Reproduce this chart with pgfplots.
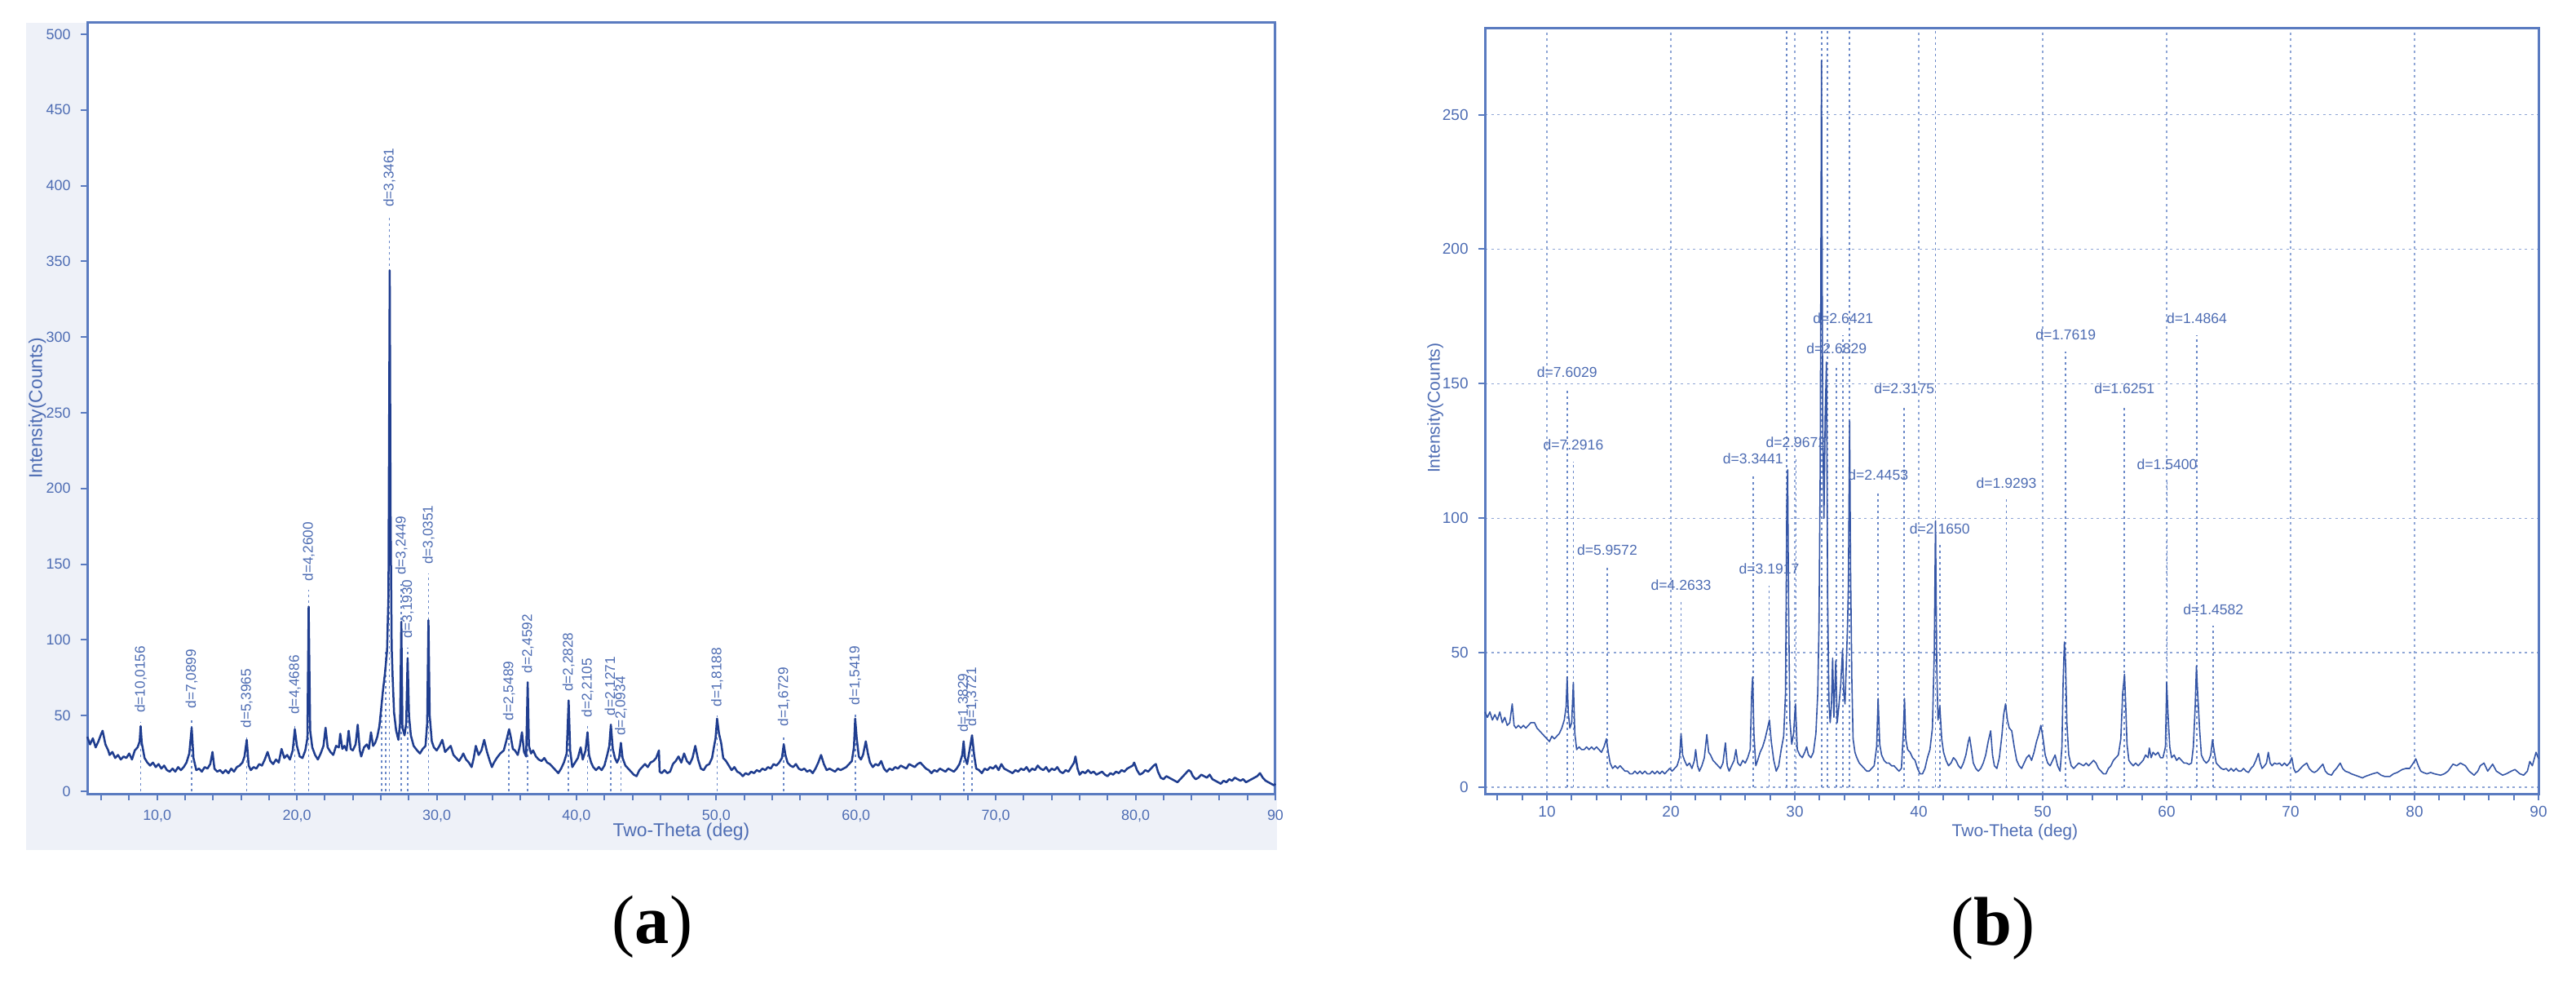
\documentclass[border=0pt]{standalone}
\usepackage{pgfplots}
\pgfplotsset{compat=1.18}
\usepackage{pgfplotstable}
\usepackage{fontspec}
\setmainfont{Liberation Sans}
\newfontfamily\capfont{Liberation Serif}
\newcommand\fs[1]{\fontsize{#1}{#1}\selectfont}
\definecolor{frameblue}{HTML}{5A7BC0}
\definecolor{curveA}{HTML}{1F3D8F}
\definecolor{curveB}{HTML}{3556A6}
\definecolor{dotblue}{HTML}{6A88C8}
\definecolor{gridblue}{HTML}{8FA6D6}
\definecolor{textblue}{HTML}{4D6CB3}
\definecolor{bggray}{HTML}{EEF1F8}

\pgfplotstableread{
x y
5.0 36
5.2 31
5.4 35
5.6 29
5.8 33
6.0 38
6.1 40
6.3 31
6.5 27
6.6 24
6.8 26
7.0 22
7.2 24
7.4 21
7.6 23
7.8 22
8.0 25
8.2 21
8.4 27
8.6 29
8.75 33
8.82 43
8.9 32
9.1 22
9.3 19
9.5 17
9.7 19
9.9 16
10.1 18
10.3 15
10.5 17
10.7 14
10.9 13
11.1 15
11.3 13
11.5 16
11.7 14
11.9 16
12.1 19
12.3 25
12.47 42
12.6 22
12.8 14
13.0 15
13.2 13
13.4 16
13.6 15
13.8 18
13.96 26
14.1 15
14.3 13
14.5 14
14.7 12
14.9 14
15.1 12
15.3 15
15.5 13
15.7 16
15.9 17
16.1 19
16.25 23
16.41 34
16.55 17
16.7 14
16.9 16
17.1 15
17.3 18
17.5 17
17.7 21
17.9 26
18.1 20
18.3 18
18.5 21
18.7 19
18.9 28
19.1 22
19.3 24
19.5 21
19.7 27
19.85 41
20.0 30
20.2 23
20.4 22
20.6 27
20.75 35
20.84 122
20.95 40
21.1 29
21.3 24
21.5 21
21.7 25
21.9 30
22.05 42
22.2 29
22.4 26
22.6 24
22.8 30
23.0 29
23.1 38
23.25 28
23.4 30
23.55 27
23.7 40
23.85 28
24.0 27
24.2 31
24.35 44
24.5 27
24.6 23
24.8 29
25.0 31
25.15 28
25.3 39
25.45 30
25.6 32
25.75 36
25.9 43
26.0 52
26.15 66
26.3 78
26.45 93
26.55 130
26.64 344
26.7 184
26.78 95
26.85 75
26.95 52
27.1 40
27.26 34
27.38 45
27.47 112
27.55 42
27.7 37
27.82 45
27.92 88
28.02 50
28.15 37
28.35 30
28.6 27
28.8 25
29.0 28
29.2 30
29.32 45
29.41 113
29.5 50
29.65 33
29.8 29
30.0 27
30.2 30
30.4 34
30.6 26
30.8 28
31.0 30
31.2 24
31.4 22
31.6 20
31.8 23
31.9 25
32.1 21
32.3 19
32.5 16
32.65 22
32.8 30
33.0 24
33.2 27
33.4 34
33.6 26
33.8 20
33.95 16
34.1 19
34.3 22
34.55 25
34.8 27
35.0 34
35.18 41
35.3 36
35.45 28
35.6 27
35.8 24
35.95 30
36.1 39
36.25 26
36.4 23
36.51 72
36.6 30
36.75 25
36.9 27
37.1 23
37.3 21
37.5 20
37.7 22
37.9 19
38.1 18
38.3 16
38.5 14
38.7 12
38.9 15
39.1 19
39.3 25
39.44 60
39.55 27
39.7 16
39.9 19
40.1 22
40.3 29
40.45 21
40.65 27
40.79 39
40.9 24
41.05 19
41.2 16
41.4 14
41.6 16
41.8 14
42.0 17
42.2 24
42.35 30
42.46 44
42.6 28
42.75 22
42.9 19
43.05 22
43.18 32
43.3 22
43.5 17
43.7 15
43.9 13
44.1 11
44.3 10
44.5 14
44.7 16
44.9 18
45.1 16
45.3 19
45.5 20
45.7 22
45.9 27
45.95 13
46.1 12
46.3 14
46.5 12
46.7 13
46.9 18
47.1 20
47.3 23
47.5 19
47.7 25
47.9 20
48.1 18
48.3 22
48.5 30
48.7 21
48.9 15
49.1 14
49.3 17
49.5 18
49.7 22
49.85 30
49.95 35
50.06 48
50.2 38
50.35 32
50.5 22
50.7 20
50.9 17
51.1 14
51.3 16
51.5 13
51.7 12
51.9 10
52.1 12
52.3 11
52.5 13
52.7 12
52.9 14
53.1 13
53.3 15
53.5 14
53.7 16
53.9 15
54.1 18
54.3 17
54.5 19
54.7 22
54.83 31
54.95 24
55.1 19
55.3 17
55.5 16
55.7 18
55.9 15
56.1 14
56.3 15
56.5 13
56.7 14
56.9 12
57.1 15
57.3 19
57.5 24
57.7 18
57.9 14
58.1 15
58.3 14
58.5 13
58.7 15
58.9 14
59.1 15
59.3 16
59.5 18
59.7 20
59.85 29
59.94 48
60.05 35
60.2 23
60.35 21
60.5 24
60.7 33
60.85 25
61.0 19
61.2 16
61.4 18
61.6 17
61.8 20
62.0 15
62.2 13
62.4 15
62.6 14
62.8 16
63.0 15
63.2 17
63.4 16
63.6 15
63.8 18
64.0 17
64.2 16
64.4 18
64.6 19
64.8 17
65.0 15
65.2 14
65.4 12
65.6 14
65.8 13
66.0 15
66.2 14
66.4 13
66.6 15
66.8 14
67.0 13
67.2 15
67.4 18
67.6 24
67.7 33
67.8 22
67.95 18
68.1 26
68.3 37
68.45 24
68.6 15
68.8 14
69.0 12
69.2 15
69.4 14
69.6 16
69.8 15
70.0 17
70.2 14
70.4 18
70.6 15
70.8 14
71.0 13
71.2 12
71.4 14
71.6 13
71.8 15
72.0 14
72.2 16
72.4 13
72.6 15
72.8 14
73.0 17
73.2 15
73.4 14
73.6 16
73.8 13
74.0 15
74.2 14
74.4 16
74.6 13
74.8 12
75.0 14
75.2 13
75.4 16
75.6 19
75.7 23
75.85 15
76.0 11
76.2 13
76.4 12
76.6 14
76.8 12
77.0 13
77.2 11
77.4 12
77.6 13
77.8 11
78.0 10
78.2 12
78.4 11
78.6 13
78.8 12
79.0 14
79.2 13
79.4 15
79.6 16
79.8 17
79.9 19
80.1 14
80.3 11
80.5 12
80.7 14
80.9 13
81.1 15
81.3 17
81.45 18
81.6 13
81.8 9
82.0 8
82.2 10
82.4 9
82.6 8
82.8 7
83.0 6
83.2 8
83.4 10
83.6 12
83.8 14
83.95 13
84.1 10
84.3 8
84.5 9
84.7 11
84.9 10
85.1 9
85.3 11
85.5 8
85.7 7
85.9 6
86.1 5
86.3 7
86.5 6
86.7 8
86.9 7
87.1 9
87.3 8
87.5 7
87.7 8
87.9 6
88.1 7
88.3 8
88.5 9
88.7 10
88.9 12
89.1 9
89.3 7
89.5 6
89.7 5
89.9 4
90.0 5
}\leftdata

\pgfplotstableread{
x y lab
8.82 46 d=10,0156
12.47 49 d=7,0899
16.41 36 d=5,3965
19.85 45 d=4,4686
20.84 133 d=4,2600
26.62 380 d=3,3461
27.47 137 d=3,2449
27.92 95 d=3,1930
29.41 144 d=3,0351
35.18 41 d=2,5489
36.51 72 d=2,4592
39.44 60 d=2,2828
40.79 43 d=2,2105
42.46 44 d=2,1271
43.18 31 d=2,0934
50.07 50 d=1,8188
54.83 37 d=1,6729
59.94 51 d=1,5419
67.70 33 d=1,3829
68.30 37 d=1,3721
}\leftlabels

\pgfplotstableread{
x y
26.07 60
26.37 92
}\leftextra

\pgfplotstableread{
x y
5.0 28
5.2 26
5.4 28
5.6 25
5.8 27
6.0 25
6.2 28
6.4 24
6.6 26
6.8 23
7.0 24
7.2 31
7.35 23
7.5 22
7.7 23
7.9 22
8.1 23
8.3 22
8.5 23
8.7 24
9.0 24
9.2 22
9.4 21
9.6 20
9.8 19
10.0 18
10.2 17
10.4 19
10.6 18
10.8 19
11.0 20
11.2 22
11.4 25
11.55 30
11.63 41
11.72 28
11.85 22
12.0 24
12.13 39
12.25 20
12.4 14
12.6 15
12.8 14
13.0 14
13.2 15
13.4 14
13.6 15
13.8 14
14.0 15
14.2 14
14.4 13
14.6 15
14.8 18
14.95 13
15.1 9
15.3 7
15.5 8
15.7 7
15.9 8
16.1 7
16.3 6
16.5 6
16.7 5
16.9 5
17.1 6
17.3 5
17.5 6
17.7 5
17.9 6
18.1 5
18.3 5
18.5 6
18.7 5
18.9 6
19.1 5
19.3 6
19.5 5
19.7 6
19.9 7
20.1 6
20.3 7
20.5 8
20.7 11
20.82 20
20.95 12
21.1 10
21.3 8
21.5 9
21.7 7
21.9 10
22.0 14
22.15 8
22.3 6
22.5 8
22.7 11
22.9 19.6
23.05 13
23.2 12
23.4 10
23.6 9
23.8 8
24.0 7
24.2 9
24.4 16.5
24.55 8
24.7 6
24.9 8
25.1 10
25.25 14
25.4 9
25.6 8
25.8 10
26.0 9
26.2 11
26.4 14
26.52 35
26.6 41
26.7 20
26.85 8
27.0 10
27.2 13
27.4 15
27.6 18
27.8 22
27.95 25
28.1 17
28.3 10
28.5 6
28.7 8
28.9 14
29.1 19
29.25 35
29.35 104
29.42 118
29.5 67
29.6 25
29.75 16
29.9 20
30.05 31
30.2 14
30.4 12
30.6 11
30.8 13
30.95 15
31.1 12
31.3 11
31.5 13
31.7 20
31.85 35
31.95 60
32.05 120
32.15 270
32.25 135
32.35 100
32.45 138
32.55 158
32.65 70
32.75 32
32.85 24
32.95 30
33.05 48
33.15 26
33.3 47
33.42 24
33.55 30
33.7 38
33.85 51
33.95 35
34.05 31
34.15 45
34.25 60
34.32 75
34.42 136
34.5 80
34.6 40
34.7 18
34.85 13
35.0 11
35.2 9
35.4 8
35.6 7
35.8 6
36.0 6
36.2 7
36.4 8
36.6 15
36.72 33
36.85 16
37.0 12
37.2 10
37.4 9
37.6 9
37.8 8
38.0 8
38.2 7
38.4 6
38.6 7
38.75 20
38.85 33
38.95 18
39.1 14
39.3 13
39.5 11
39.7 10
39.9 7
40.1 5
40.3 5
40.5 7
40.7 11
40.9 14
41.1 22
41.25 50
41.35 99
41.45 45
41.55 25
41.7 30
41.85 18
42.0 13
42.2 10
42.4 8
42.6 9
42.8 11
43.0 10
43.2 8
43.4 7
43.6 9
43.8 12
44.0 17
44.1 18.7
44.25 14
44.4 9
44.6 7
44.8 6
45.0 7
45.2 9
45.4 12
45.6 17
45.8 21
45.95 12
46.1 8
46.3 7
46.5 11
46.7 19
46.85 27
47.0 31
47.15 25
47.3 22
47.5 21
47.7 15
47.9 10
48.1 8
48.3 7
48.5 9
48.7 11
48.9 12
49.1 10
49.3 13
49.5 17
49.7 20
49.85 23
50.0 19
50.2 12
50.4 9
50.6 8
50.8 10
51.0 12
51.2 8
51.4 6
51.55 15
51.65 40
51.75 54
51.85 45
51.95 24
52.1 12
52.3 8
52.5 7
52.7 8
52.9 9
53.1 8.5
53.3 8
53.5 9
53.7 8
53.9 9
54.1 10
54.3 9
54.5 7
54.7 6
54.9 5
55.1 5
55.3 7
55.5 8
55.7 10
55.9 11
56.1 12
56.3 18
56.45 35
56.6 42
56.7 30
56.8 16
56.95 10
57.1 9
57.3 8
57.5 9
57.7 8
57.9 9
58.1 10
58.3 12
58.5 11
58.6 14.6
58.75 11
58.9 13
59.1 12
59.3 13
59.5 11
59.7 11
59.9 15
60.0 39
60.1 28
60.25 15
60.4 11
60.6 12
60.8 10
61.0 11
61.2 10
61.4 9
61.6 9
61.8 8.5
62.0 9
62.15 15
62.3 30
62.4 45
62.5 35
62.65 22
62.8 12
63.0 10
63.2 9
63.4 10
63.55 12
63.7 17.7
63.85 13
64.0 9
64.2 8
64.4 7
64.6 6.6
64.8 7
65.0 6
65.2 7
65.4 6
65.6 7
65.8 6
66.0 6
66.2 7
66.4 6
66.6 5.5
66.8 7
67.0 8
67.2 10
67.4 12.6
67.55 9
67.7 7
67.9 8
68.05 9
68.2 13
68.35 9
68.5 8
68.7 9
68.9 8.6
69.1 9
69.3 8
69.5 9
69.7 8
69.9 9
70.1 11
70.25 7
70.4 5.5
70.6 6
70.8 7
71.0 8
71.3 9
71.5 7
71.7 6
71.9 5.5
72.1 6
72.3 7
72.6 8.6
72.8 6
73.0 5
73.3 4.5
73.5 6
73.7 7
74.0 9
74.2 7
74.4 6
74.7 5.5
74.9 5
75.2 4.5
75.5 4
75.8 3.5
76.0 4
76.3 4.5
76.6 5
77.0 5.5
77.3 4.5
77.6 4
78.0 4
78.3 5
78.6 5.5
79.0 6.6
79.3 7
79.6 7
79.9 9
80.1 10.6
80.3 8
80.5 6
80.7 5.5
81.0 5
81.3 5.5
81.6 5
82.1 4.5
82.4 5
82.7 6
83.1 8.6
83.4 8
83.7 9
84.1 8
84.4 6
84.8 4.5
85.1 6
85.3 8
85.6 9
85.9 6
86.3 8.6
86.6 6
87.1 4.5
87.4 5
87.8 6
88.1 6.6
88.5 5
88.8 4.5
89.1 6
89.3 9.6
89.5 8
89.8 13
90.0 10.6
}\rightdata

\pgfplotstableread{
x y lab
11.63 148 d=7.6029
12.13 121 d=7.2916
14.86 82 d=5.9572
20.82 69 d=4.2633
26.63 116 d=3.3441
27.93 75 d=3.1917
30.09 122 d=2.9672
33.37 157 d=2.6829
33.90 168 d=2.6421
36.72 110 d=2.4453
38.83 142 d=2.3175
41.69 90 d=2.1650
47.07 107 d=1.9293
51.85 162 d=1.7619
56.59 142 d=1.6251
60.03 114 d=1.5400
62.43 168 d=1.4864
63.77 60 d=1.4582
}\rightlabels

\pgfplotstableread{
x y
29.35 282
32.17 282
32.62 282
34.42 282
41.35 282
}\rightfull

\begin{document}
\begin{tikzpicture}
\path[use as bounding box] (0,0) rectangle (315.9mm,120.4mm);
\fill[bggray] (3.2mm,16.2mm) rectangle (156.6mm,117.6mm);

% ---------------- left panel (a)
\begin{axis}[
  at={(10.7mm,23.1mm)}, anchor=south west,
  scale only axis, width=145.7mm, height=94.5mm,
  xmin=5, xmax=90, ymin=-1.6, ymax=507.5,
  axis background/.style={fill=white},
  axis line style={draw=frameblue, line width=0.3mm},
  xtick={10,20,...,90}, minor xtick={6,8,...,88},
  xticklabels={{10,0},{20,0},{30,0},{40,0},{50,0},{60,0},{70,0},{80,0},{90}},
  ytick={0,50,...,500},
  tick align=outside, xtick pos=left, ytick pos=left,
  major tick length=0.8mm, minor tick length=0.8mm,
  every tick/.style={draw=frameblue, line width=0.2mm},
  every minor tick/.style={draw=frameblue, line width=0.2mm},
  tick label style={font=\fs{5.1pt}, text=textblue},
  /pgf/number format/assume math mode=true,
  xlabel={Two-Theta (deg)}, ylabel={Intensity(Counts)},
  label style={font=\fs{6.5pt}, text=textblue},
  xlabel style={at={(axis description cs:0.5,-0.049)}, anchor=center},
  ylabel style={at={(axis description cs:-0.042,0.5)}, anchor=center},
  clip=false,
]
\addplot[ycomb, mark=none, draw=dotblue, line width=0.18mm, dash pattern=on 0.3mm off 0.4mm] table[x=x,y=y] {\leftextra};
\addplot[ycomb, mark=none, draw=dotblue, line width=0.18mm, dash pattern=on 0.3mm off 0.4mm,
  nodes near coords, point meta=explicit symbolic,
  nodes near coords align={anchor=west},
  every node near coord/.append style={rotate=90, anchor=west, inner xsep=1mm, inner ysep=0pt, font=\fs{4.9pt}, text=textblue, solid}]
  table[x=x,y=y,meta=lab] {\leftlabels};
\addplot[curveA, line width=0.25mm, line join=round, mark=none] table[x=x,y=y] {\leftdata};
\end{axis}

% ---------------- right panel (b)
\begin{axis}[
  at={(182.1mm,23.1mm)}, anchor=south west,
  scale only axis, width=129.2mm, height=93.8mm,
  xmin=5, xmax=90, ymin=-2.4, ymax=282,
  axis background/.style={fill=white},
  axis line style={draw=frameblue, line width=0.3mm},
  xtick={10,20,...,90}, minor xtick={6,8,...,88},
  ytick={0,50,...,250},
  grid=major, grid style={draw=gridblue, line width=0.15mm, dash pattern=on 0.3mm off 0.45mm},
  tick align=outside, xtick pos=left, ytick pos=left,
  major tick length=0.8mm, minor tick length=0.8mm,
  every tick/.style={draw=frameblue, line width=0.2mm},
  every minor tick/.style={draw=frameblue, line width=0.2mm},
  tick label style={font=\fs{5.4pt}, text=textblue},
  xticklabel style={yshift=0.5mm},
  /pgf/number format/assume math mode=true,
  xlabel={Two-Theta (deg)}, ylabel={Intensity(Counts)},
  label style={font=\fs{6pt}, text=textblue},
  xlabel style={at={(axis description cs:0.503,-0.05)}, anchor=center},
  ylabel style={at={(axis description cs:-0.0472,0.504)}, anchor=center},
  clip=false,
]
\addplot[ycomb, mark=none, draw=dotblue, line width=0.18mm, dash pattern=on 0.3mm off 0.4mm] table[x=x,y=y] {\rightfull};
\addplot[ycomb, mark=none, draw=dotblue, line width=0.18mm, dash pattern=on 0.3mm off 0.4mm,
  nodes near coords, point meta=explicit symbolic,
  nodes near coords align={anchor=south},
  every node near coord/.append style={anchor=south, inner ysep=1.3mm, inner xsep=0pt, font=\fs{5pt}, text=textblue, solid}]
  table[x=x,y=y,meta=lab] {\rightlabels};
\addplot[curveB, line width=0.16mm, line join=round, mark=none] table[x=x,y=y] {\rightdata};
\end{axis}

\node[font=\capfont\fs{24pt}] at (80.0mm,6.8mm) {(\textbf{a})};
\node[font=\capfont\fs{24pt}] at (244.4mm,6.6mm) {(\textbf{b})};
\end{tikzpicture}
\end{document}
